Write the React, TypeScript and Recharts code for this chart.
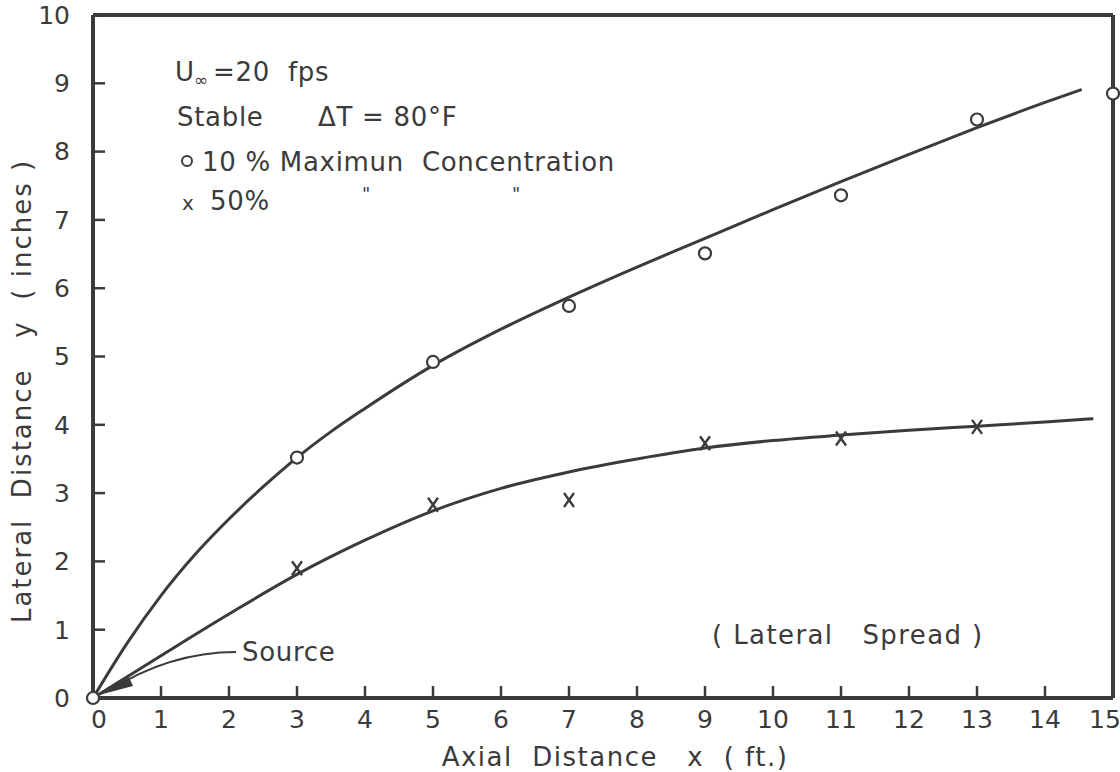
import { ComposedChart, Line, Scatter, XAxis, YAxis } from "recharts";

document.body.style.margin = "0";

const INK = "#3b3b3b";
const FONT = "'DejaVu Sans', sans-serif";

// axis ticks
const X_TICKS = [0, 1, 2, 3, 4, 5, 6, 7, 8, 9, 10, 11, 12, 13, 14, 15];
const Y_TICKS = [0, 1, 2, 3, 4, 5, 6, 7, 8, 9, 10];

// measured points: 10% max concentration (circles)
const TEN_X = [0, 3, 5, 7, 9, 11, 13, 15];
const TEN_Y = [0, 3.52, 4.92, 5.74, 6.51, 7.36, 8.47, 8.85];

// measured points: 50% (crosses)
const FIFTY_X = [3, 5, 7, 9, 11, 13];
const FIFTY_Y = [1.9, 2.83, 2.9, 3.73, 3.8, 3.97];

// faired curves
const UPPER_X = [0, 0.5, 1, 1.5, 2, 2.5, 3, 3.5, 4, 5, 6, 7, 8, 9, 10, 11, 12, 13, 14, 14.54];
const UPPER_Y = [0, 0.8, 1.5, 2.1, 2.62, 3.09, 3.52, 3.9, 4.24, 4.87, 5.4, 5.87, 6.31, 6.73, 7.15, 7.56, 7.96, 8.35, 8.72, 8.91];
const LOWER_X = [0, 1, 2, 3, 4, 5, 6, 7, 8, 9, 10, 11, 12, 13, 14, 14.71];
const LOWER_Y = [0, 0.62, 1.23, 1.81, 2.31, 2.74, 3.07, 3.31, 3.5, 3.66, 3.77, 3.85, 3.92, 3.98, 4.04, 4.09];

const zip = (xs: number[], ys: number[]) => xs.map((x, i) => ({ x, y: ys[i] }));

const tenPts = zip(TEN_X, TEN_Y);
const fiftyPts = zip(FIFTY_X, FIFTY_Y);
const upper = zip(UPPER_X, UPPER_Y);
const lower = zip(LOWER_X, LOWER_Y);

const OpenCircle = (p: any) => (
  <circle cx={p.cx} cy={p.cy} r={6} fill="#fff" stroke={INK} strokeWidth={2.2} />
);

const Cross = (p: any) => {
  const { cx, cy } = p;
  return (
    <g stroke={INK} strokeWidth={2.4}>
      <line x1={cx - 5} y1={cy - 7} x2={cx + 5} y2={cy + 7} />
      <line x1={cx + 5} y1={cy - 7} x2={cx - 5} y2={cy + 7} />
    </g>
  );
};

// end labels sit tight against the frame, nudge them like the original
const XTick = (p: any) => {
  const v = p.payload.value;
  const dx = v === 15 ? -8 : v === 0 ? 6 : 0;
  return (
    <text x={p.x + dx} y={p.y} dy="0.71em" textAnchor="middle" fill={INK} fontSize={25} fontFamily={FONT}>
      {v}
    </text>
  );
};

const txt = {
  fill: INK,
  fontFamily: FONT,
  fontSize: 26,
  letterSpacing: 0.7,
  style: { whiteSpace: "pre" as const },
};

export default function App() {
  return (
    <div style={{ width: 1120, height: 772, background: "#fff" }}>
      <ComposedChart width={1120} height={772} margin={{ top: 0, right: 0, bottom: 0, left: 0 }}>
        <XAxis
          xAxisId="b"
          dataKey="x"
          type="number"
          domain={[0, 15]}
          ticks={X_TICKS}
          interval={0}
          height={74}
          tickSize={-12}
          tickMargin={24}
          axisLine={{ stroke: INK, strokeWidth: 4 }}
          tickLine={{ stroke: INK, strokeWidth: 2.5 }}
          tick={XTick}
        />
        <XAxis
          xAxisId="t"
          orientation="top"
          dataKey="x"
          type="number"
          domain={[0, 15]}
          ticks={X_TICKS}
          interval={0}
          height={15}
          tickSize={-12}
          tickFormatter={() => ""}
          axisLine={{ stroke: INK, strokeWidth: 4 }}
          tickLine={{ stroke: INK, strokeWidth: 2.5 }}
        />
        <YAxis
          yAxisId="l"
          type="number"
          domain={[0, 10]}
          ticks={Y_TICKS}
          interval={0}
          width={93}
          tickSize={-12}
          tickMargin={35}
          axisLine={{ stroke: INK, strokeWidth: 4 }}
          tickLine={{ stroke: INK, strokeWidth: 2.5 }}
          tick={{ fill: INK, fontSize: 25, fontFamily: FONT }}
        />
        <YAxis
          yAxisId="r"
          orientation="right"
          type="number"
          domain={[0, 10]}
          ticks={Y_TICKS}
          interval={0}
          width={7}
          tickSize={-12}
          tickFormatter={() => ""}
          axisLine={{ stroke: INK, strokeWidth: 4 }}
          tickLine={{ stroke: INK, strokeWidth: 2.5 }}
        />
        <Line
          xAxisId="b"
          yAxisId="l"
          data={upper}
          dataKey="y"
          type="monotone"
          stroke={INK}
          strokeWidth={3}
          dot={false}
          activeDot={false}
          isAnimationActive={false}
        />
        <Line
          xAxisId="b"
          yAxisId="l"
          data={lower}
          dataKey="y"
          type="monotone"
          stroke={INK}
          strokeWidth={3}
          dot={false}
          activeDot={false}
          isAnimationActive={false}
        />
        <Scatter xAxisId="b" yAxisId="l" data={fiftyPts} dataKey="y" shape={Cross} isAnimationActive={false} />
        <Scatter xAxisId="b" yAxisId="l" data={tenPts} dataKey="y" shape={OpenCircle} isAnimationActive={false} />

        {/* notes block */}
        <text {...txt} x={175} y={81}>U</text>
        <text {...txt} x={194} y={86} fontSize={17}>∞</text>
        <text {...txt} x={213} y={81}>=20  fps</text>
        <text {...txt} x={177} y={126}>Stable</text>
        <text {...txt} x={318} y={126}>ΔT = 80°F</text>
        <circle cx={187} cy={161} r={5} fill="none" stroke={INK} strokeWidth={2} />
        <text {...txt} x={202} y={171}>10 % Maximun  Concentration</text>
        <text {...txt} x={182} y={210} fontSize={20}>x</text>
        <text {...txt} x={210} y={210}>50%</text>
        <text {...txt} x={362} y={200} fontSize={18}>"</text>
        <text {...txt} x={512} y={200} fontSize={18}>"</text>

        {/* other notes */}
        <text {...txt} x={712} y={644} letterSpacing={1.4}>( Lateral   Spread )</text>
        <text {...txt} x={242} y={661}>Source</text>
        <path d="M 236 652 Q 170 652 108 691" fill="none" stroke={INK} strokeWidth={2} />
        <polygon points="99,695 133,686 129,677" fill={INK} />

        {/* axis titles */}
        <text {...txt} letterSpacing={1.5} x={615} y={766} textAnchor="middle">
          Axial  Distance   x  ( ft.)
        </text>
        <text
          {...txt}
          letterSpacing={2}
          x={0}
          y={0}
          textAnchor="middle"
          transform="translate(31 391) rotate(-90)"
        >
          Lateral  Distance   y  ( inches )
        </text>
      </ComposedChart>
    </div>
  );
}
